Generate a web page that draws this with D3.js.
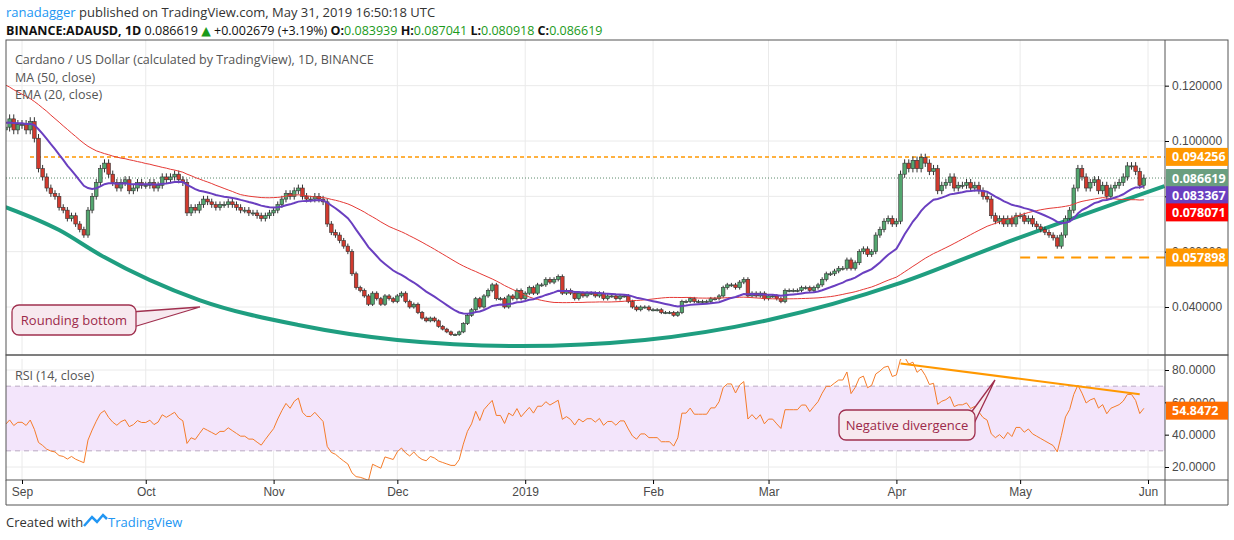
<!DOCTYPE html>
<html lang="en">
<head>
<meta charset="UTF-8">
<title>ADAUSD 1D</title>
<script src="https://d3js.org/d3.v7.min.js"></script>
<style>
  body { margin: 0; background: #fff; font-family: "Open Sans", "DejaVu Sans", sans-serif; }
  .axis text { fill: #4a4a4a; font-size: 12px; }
  .grid line { stroke: #eaeaea; }
</style>
</head>
<body>
<svg id="chart" width="1234" height="540"></svg>
<script>
// closes before the first drawn candle (only used to warm up MA/EMA/RSI)
const history = [0.150,0.146,0.152,0.145,0.147,0.141,0.150,0.153,0.146,0.149,0.142,0.150,0.144,0.140,0.142,0.135,0.138,0.132,0.133,0.126,0.129,0.122,0.124,0.116,0.117,0.108,0.110,0.100,0.104,0.097,0.101,0.098,0.103,0.099,0.104,0.098,0.103,0.101,0.106,0.101,0.107,0.102,0.106,0.104,0.109,0.104,0.108,0.104,0.107,0.104];
const firstDay = "2018-08-28";
const closes = [
  0.105,0.108,0.104,0.106,
  // Sep
  0.106,0.104,0.107,0.101,0.090,0.087,0.083,0.081,0.080,0.076,0.075,0.072,0.073,0.070,0.068,0.066,0.075,0.080,0.085,0.090,0.092,0.088,0.085,0.083,0.085,0.086,0.082,0.083,0.085,0.084,
  // Oct
  0.084,0.085,0.083,0.084,0.087,0.086,0.087,0.088,0.086,0.085,0.074,0.076,0.075,0.077,0.079,0.078,0.077,0.076,0.077,0.077,0.078,0.077,0.076,0.075,0.075,0.074,0.074,0.073,0.072,0.073,0.074,
  // Nov
  0.075,0.077,0.079,0.081,0.080,0.082,0.083,0.080,0.079,0.079,0.080,0.079,0.078,0.070,0.067,0.066,0.064,0.062,0.060,0.052,0.047,0.046,0.044,0.041,0.045,0.043,0.041,0.044,0.043,0.042,
  // Dec
  0.044,0.045,0.042,0.040,0.041,0.038,0.036,0.035,0.036,0.035,0.033,0.032,0.031,0.030,0.030,0.031,0.034,0.037,0.039,0.043,0.040,0.044,0.046,0.048,0.043,0.043,0.040,0.044,0.043,0.046,0.043,
  // Jan
  0.045,0.047,0.045,0.048,0.048,0.050,0.049,0.050,0.051,0.045,0.046,0.045,0.043,0.045,0.044,0.045,0.045,0.044,0.045,0.043,0.044,0.044,0.043,0.044,0.044,0.042,0.040,0.039,0.040,0.040,0.039,
  // Feb
  0.039,0.039,0.038,0.038,0.038,0.037,0.038,0.042,0.042,0.043,0.042,0.042,0.042,0.042,0.043,0.043,0.044,0.047,0.048,0.048,0.047,0.049,0.050,0.044,0.045,0.044,0.045,0.043,
  // Mar
  0.044,0.044,0.043,0.042,0.046,0.046,0.046,0.046,0.047,0.047,0.046,0.047,0.048,0.050,0.052,0.052,0.053,0.054,0.054,0.057,0.054,0.056,0.060,0.061,0.059,0.060,0.066,0.068,0.071,0.072,0.070,
  // Apr
  0.071,0.088,0.092,0.090,0.093,0.090,0.094,0.092,0.089,0.090,0.082,0.084,0.085,0.087,0.083,0.084,0.084,0.085,0.083,0.084,0.082,0.080,0.079,0.073,0.071,0.072,0.070,0.072,0.070,0.073,
  // May
  0.073,0.071,0.072,0.070,0.069,0.068,0.067,0.066,0.065,0.062,0.066,0.072,0.075,0.083,0.090,0.087,0.083,0.085,0.086,0.082,0.084,0.080,0.083,0.084,0.085,0.087,0.091,0.091,0.089,0.084,0.0866
];
const wickPad = 0.015;
const priceTicks = [0.04, 0.06, 0.08, 0.10, 0.12];
const rsiTicks = [20, 40, 60, 80];
const monthTicks = [["2018-09-01","Sep"],["2018-10-01","Oct"],["2018-11-01","Nov"],["2018-12-01","Dec"],["2019-01-01","2019"],["2019-02-01","Feb"],["2019-03-01","Mar"],["2019-04-01","Apr"],["2019-05-01","May"],["2019-06-01","Jun"]];
const levelResist = 0.094256, levelSupport = 0.057898;
// right-axis tags as shown: [value, label position price, colour]
const tags = [[0.094256, 0.094256, "#ff9800"], [0.086619, 0.086619, "#6a9e7f"], [0.083367, 0.0804, "#6a3fc0"], [0.078071, 0.0742, "#ff0000"], [0.057898, 0.057898, "#ff9800"]];
const rsiLast = 54.8472;
// rounding bottom curve in [date, price]
const bowl = [["2018-08-28",0.0761],["2018-09-10",0.0678],["2018-09-20",0.0588],["2018-10-14",0.0425],["2018-11-07",0.0335],["2018-12-01",0.0281],["2018-12-31",0.0259],["2019-01-30",0.0281],["2019-03-01",0.0353],["2019-04-02",0.0487],["2019-04-26",0.0624],["2019-06-05",0.0837]];

const parse = d3.timeParse("%Y-%m-%d");
const all = history.concat(closes);
const start = parse(firstDay);
const H = history.length;

// indicators
const ma = all.map((c, i) => i >= 49 ? d3.mean(all.slice(i - 49, i + 1)) : null);
const ema = []; const k = 2 / 21;
all.forEach((c, i) => ema.push(i === 0 ? c : c * k + ema[i - 1] * (1 - k)));
const rsi = []; let ag = 0, al = 0;
all.forEach((c, i) => {
  if (i === 0) { rsi.push(null); return; }
  const ch = c - all[i - 1];
  const g = Math.max(ch, 0), l = Math.max(-ch, 0);
  if (i <= 14) { ag += g / 14; al += l / 14; } else { ag = (ag * 13 + g) / 14; al = (al * 13 + l) / 14; }
  rsi.push(i < 14 ? null : 100 - 100 / (1 + ag / (al || 1e-9)));
});

const data = closes.map((c, i) => {
  const o = all[H + i - 1];
  return {date: d3.timeDay.offset(start, i), o, c,
    h: Math.max(o, c) * (1 + wickPad), l: Math.min(o, c) * (1 - wickPad),
    ma: ma[H + i], ema: ema[H + i], rsi: rsi[H + i]};
});

const svg = d3.select("#chart");
const L = 6, R = 1165, pTop = 40, pBot = 355, rTop = 359, rBot = 480;
const x = d3.scaleTime().domain([parse("2018-09-01"), parse("2019-06-01")]).range([22, 1148]);
const y = d3.scaleLinear().domain([0.04, 0.10]).range([307, 141]);
const yr = d3.scaleLinear().domain([20, 80]).range([467, 370]);

// header
svg.append("text").attr("x", 6).attr("y", 17).attr("font-size", 13)
  .html('<tspan fill="#2196f3">ranadagger</tspan><tspan fill="#333"> published on TradingView.com, May 31, 2019 16:50:18 UTC</tspan>');
svg.append("text").attr("x", 6).attr("y", 35).attr("font-size", 12.5).attr("fill", "#111")
  .html('<tspan font-weight="bold">BINANCE:ADAUSD, 1D</tspan>  0.086619 <tspan fill="#1a9a1a">▲</tspan> +0.002679 (+3.19%) <tspan font-weight="bold">O:</tspan><tspan fill="#1a9a1a">0.083939</tspan> <tspan font-weight="bold">H:</tspan><tspan fill="#1a9a1a">0.087041</tspan> <tspan font-weight="bold">L:</tspan><tspan fill="#1a9a1a">0.080918</tspan> <tspan font-weight="bold">C:</tspan><tspan fill="#1a9a1a">0.086619</tspan>');

const defs = svg.append("defs");
defs.append("clipPath").attr("id", "pc").append("rect").attr("x", L).attr("y", pTop).attr("width", R - L).attr("height", pBot - pTop);
defs.append("clipPath").attr("id", "rc").append("rect").attr("x", L).attr("y", rTop).attr("width", R - L).attr("height", rBot - rTop);

// grids
const grid = svg.append("g").attr("class", "grid");
monthTicks.forEach(([d]) => {
  grid.append("line").attr("x1", x(parse(d))).attr("x2", x(parse(d))).attr("y1", pTop).attr("y2", pBot);
  grid.append("line").attr("x1", x(parse(d))).attr("x2", x(parse(d))).attr("y1", rTop).attr("y2", rBot);
});
priceTicks.forEach(t => grid.append("line").attr("x1", L).attr("x2", R).attr("y1", y(t)).attr("y2", y(t)));
rsiTicks.forEach(t => grid.append("line").attr("x1", L).attr("x2", R).attr("y1", yr(t)).attr("y2", yr(t)));

// RSI band
svg.append("rect").attr("x", L).attr("width", R - L).attr("y", yr(70)).attr("height", yr(30) - yr(70)).attr("fill", "#f3e5fb");
[70, 30].forEach(v => svg.append("line").attr("x1", L).attr("x2", R).attr("y1", yr(v)).attr("y2", yr(v))
  .attr("stroke", "#b9a9c2").attr("stroke-dasharray", "5,4"));

const pg = svg.append("g").attr("clip-path", "url(#pc)");
// bowl
pg.append("path").datum(bowl).attr("fill", "none").attr("stroke", "#1f9e80").attr("stroke-width", 4)
  .attr("d", d3.line().x(d => x(parse(d[0]))).y(d => y(d[1])).curve(d3.curveMonotoneX));
// levels
pg.append("line").attr("x1", 30).attr("x2", R).attr("y1", y(levelResist)).attr("y2", y(levelResist))
  .attr("stroke", "#ff9800").attr("stroke-width", 1.5).attr("stroke-dasharray", "4,3");
pg.append("line").attr("x1", x(parse("2019-05-01"))).attr("x2", R).attr("y1", y(levelSupport)).attr("y2", y(levelSupport))
  .attr("stroke", "#ff9800").attr("stroke-width", 2).attr("stroke-dasharray", "10,7");
pg.append("line").attr("x1", L).attr("x2", R).attr("y1", y(0.086619)).attr("y2", y(0.086619))
  .attr("stroke", "#5a8a6a").attr("stroke-dasharray", "1,2");

// candles
const cw = 3.6;
const cg = pg.append("g").selectAll("g").data(data).enter().append("g");
cg.append("line").attr("x1", d => x(d.date)).attr("x2", d => x(d.date)).attr("y1", d => y(d.h)).attr("y2", d => y(d.l)).attr("stroke", "#333");
cg.append("rect").attr("x", d => x(d.date) - cw / 2).attr("width", cw)
  .attr("y", d => y(Math.max(d.o, d.c))).attr("height", d => Math.max(1, Math.abs(y(d.o) - y(d.c))))
  .attr("fill", d => d.c >= d.o ? "#53a66f" : "#d23a2e").attr("stroke", "#333").attr("stroke-width", 0.6);

// MA & EMA
const lineFrom = key => d3.line().defined(d => d[key] != null).x(d => x(d.date)).y(d => y(d[key]));
pg.append("path").datum(data).attr("fill", "none").attr("stroke", "#e53935").attr("stroke-width", 1).attr("d", lineFrom("ma"));
pg.append("path").datum(data).attr("fill", "none").attr("stroke", "#6a3fc0").attr("stroke-width", 2).attr("d", lineFrom("ema"));

// RSI
const rg = svg.append("g").attr("clip-path", "url(#rc)");
rg.append("path").datum(data).attr("fill", "none").attr("stroke", "#f57c2a").attr("stroke-width", 1)
  .attr("d", d3.line().x(d => x(d.date)).y(d => yr(d.rsi)));
rg.append("line").attr("x1", x(parse("2019-04-02"))).attr("y1", yr(84)).attr("x2", x(parse("2019-05-30"))).attr("y2", yr(65))
  .attr("stroke", "#ff9800").attr("stroke-width", 2);

// frames
svg.append("rect").attr("x", L).attr("y", pTop).attr("width", 1222).attr("height", pBot - pTop).attr("fill", "none").attr("stroke", "#555");
svg.append("rect").attr("x", L).attr("y", pBot).attr("width", 1222).attr("height", rBot - pBot).attr("fill", "none").attr("stroke", "#555");
svg.append("line").attr("x1", R).attr("x2", R).attr("y1", pTop).attr("y2", 505).attr("stroke", "#555");
svg.append("line").attr("x1", L).attr("x2", 1228).attr("y1", 505).attr("y2", 505).attr("stroke", "#555");
svg.append("line").attr("x1", L).attr("x2", L).attr("y1", rBot).attr("y2", 505).attr("stroke", "#555");
svg.append("line").attr("x1", 1228).attr("x2", 1228).attr("y1", rBot).attr("y2", 505).attr("stroke", "#555");

// axes
svg.append("g").attr("class", "axis").attr("transform", `translate(${R},0)`)
  .call(d3.axisRight(y).tickValues(priceTicks).tickFormat(d3.format(".6f")).tickSize(4)).call(g => g.select(".domain").remove());
svg.append("g").attr("class", "axis").attr("transform", `translate(${R},0)`)
  .call(d3.axisRight(yr).tickValues(rsiTicks).tickFormat(d3.format(".4f")).tickSize(4)).call(g => g.select(".domain").remove());
svg.append("g").attr("class", "axis").attr("transform", `translate(0,${rBot})`)
  .call(d3.axisBottom(x).tickValues(monthTicks.map(m => parse(m[0]))).tickFormat((d, i) => monthTicks[i][1]).tickSize(4))
  .call(g => g.select(".domain").remove());

// price tags
tags.forEach(([v, at, col]) => {
  svg.append("rect").attr("x", R + 1).attr("y", y(at) - 9).attr("width", 62).attr("height", 18).attr("fill", col);
  svg.append("text").attr("x", R + 7).attr("y", y(at) + 4.5).attr("fill", "#fff").attr("font-size", 12.5).attr("font-weight", "bold").text(d3.format(".6f")(v));
});
svg.append("rect").attr("x", R + 1).attr("y", yr(rsiLast) - 9).attr("width", 62).attr("height", 18).attr("fill", "#ff6d00");
svg.append("text").attr("x", R + 7).attr("y", yr(rsiLast) + 4.5).attr("fill", "#fff").attr("font-size", 12.5).attr("font-weight", "bold").text(rsiLast.toFixed(4));

// legends
const leg = [["Cardano / US Dollar (calculated by TradingView), 1D, BINANCE", 64], ["MA (50, close)", 82], ["EMA (20, close)", 99]];
leg.forEach(([t, yy]) => svg.append("text").attr("x", 15).attr("y", yy).attr("font-size", 12.5).attr("fill", "#555").text(t));
svg.append("text").attr("x", 15).attr("y", 380).attr("font-size", 12.5).attr("fill", "#555").text("RSI (14, close)");

// callouts
function callout(bx, by, bw, bh, tip, base, label) {
  svg.append("path").attr("d", `M${base[0]},${base[1]} L${tip[0]},${tip[1]} L${base[2]},${base[3]}`)
    .attr("fill", "#f7e9ef").attr("stroke", "#a0304f").attr("stroke-width", 1.3);
  svg.append("rect").attr("x", bx).attr("y", by).attr("width", bw).attr("height", bh).attr("rx", 7)
    .attr("fill", "#f7e9ef").attr("stroke", "#a0304f").attr("stroke-width", 1.3);
  svg.append("text").attr("x", bx + bw / 2).attr("y", by + bh / 2 + 4.5).attr("text-anchor", "middle")
    .attr("font-size", 13).attr("fill", "#9c2a4a").text(label);
}
callout(12, 305, 124, 30, [200, 307], [130, 312, 130, 328], "Rounding bottom");
callout(839, 410, 136, 30, [995, 380], [970, 414, 968, 436], "Negative divergence");

// footer
svg.append("text").attr("x", 6).attr("y", 527).attr("font-size", 13).attr("fill", "#333").text("Created with");
svg.append("path").attr("d", "M84,526 l8,-9 l5,5 l6,-7 l4,4").attr("fill", "none").attr("stroke", "#2196f3").attr("stroke-width", 2.5);
svg.append("text").attr("x", 108).attr("y", 527).attr("font-size", 13).attr("fill", "#2196f3").text("TradingView");
</script>
</body>
</html>
